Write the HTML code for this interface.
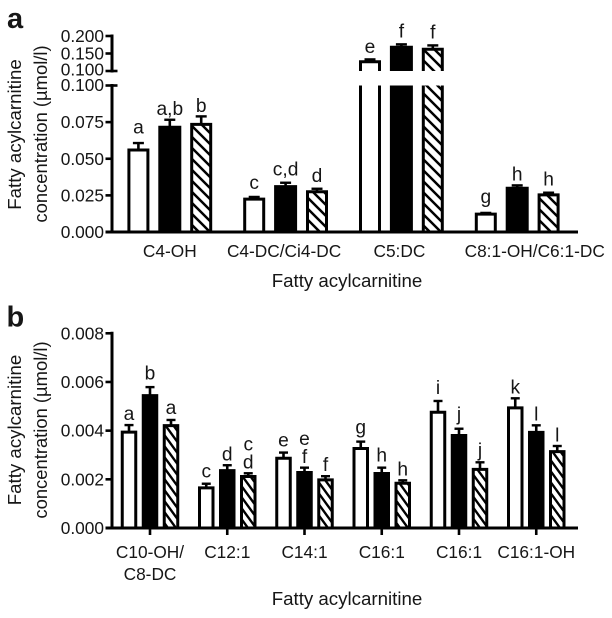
<!DOCTYPE html>
<html>
<head>
<meta charset="utf-8">
<style>
html,body{margin:0;padding:0;background:#fff;}
svg{display:block;}
text{font-family:"Liberation Sans",Arial,sans-serif;fill:#161616;}
</style>
</head>
<body>
<svg id="chart" xmlns="http://www.w3.org/2000/svg" width="612" height="618" viewBox="0 0 612 618">
<defs>
<pattern id="hatchA" patternUnits="userSpaceOnUse" width="11" height="11"><path d="M-2,-2L13,13M-2,9L2,13M9,-2L13,2" stroke="#000" stroke-width="2.5" fill="none"/></pattern>
<pattern id="hatchB" patternUnits="userSpaceOnUse" width="8" height="11"><path d="M-2,-2.75L10,13.75M-2,8.25L2,13.75M6,-2.75L10,2.75" stroke="#000" stroke-width="2.4" fill="none"/></pattern>
<filter id="soft" x="0" y="0" width="100%" height="100%"><feGaussianBlur stdDeviation="0.35"/></filter>
</defs>
<g id="root" filter="url(#soft)"></g>
</svg>
<script>
// Panel a data
const categoriesA = ["C4-OH","C4-DC/Ci4-DC","C5:DC","C8:1-OH/C6:1-DC"];
const whiteA = [0.057,0.0235,0.1306,0.0132];
const blackA = [0.0725,0.032,0.172,0.0309];
const hatchA = [0.0745,0.0285,0.1666,0.0264];
const whiteErrA = [0.0614,0.0246,0.136,0.0137];
const blackErrA = [0.0773,0.0343,0.179,0.0325];
const hatchErrA = [0.0796,0.0302,0.176,0.0275];
const whiteLetterA = ["a","c","e","g"];
const blackLetterA = ["a,b","c,d","f","h"];
const hatchLetterA = ["b","d","f","h"];
const lowerTicksA = ["0.000","0.025","0.050","0.075","0.100"];
const upperTicksA = ["0.100","0.150","0.200"];

// Panel b data
const categoriesB = [["C10-OH/","C8-DC"],["C12:1"],["C14:1"],["C16:1"],["C16:1"],["C16:1-OH"]];
const whiteB = [0.0040,0.00171,0.00293,0.00333,0.00482,0.0050];
const blackB = [0.0055,0.00242,0.00234,0.0023,0.00386,0.00399];
const hatchB = [0.00427,0.00218,0.00204,0.0019,0.00247,0.0032];
const whiteErrB = [0.00427,0.00186,0.00314,0.00359,0.00526,0.00537];
const blackErrB = [0.00583,0.00262,0.00252,0.00252,0.00412,0.00426];
const hatchErrB = [0.00448,0.00229,0.00217,0.0020,0.00274,0.00341];
const whiteLetterB = ["a","c","e","g","i","k"];
const blackLetterB = ["b","d","e f","h","j","l"];
const hatchLetterB = ["a","c d","f","h","j","l"];
const ticksB = ["0.000","0.002","0.004","0.006","0.008"];

// Layout only: clearance between each error cap and its letter
const letterLift = {
  aWhite:[8.5,7,5.5,9], aBlack:[3.7,6.5,6,4], aHatch:[3.6,6,6,6],
  bWhite:[4,5,5,7,6,4], bBlack:[6.7,3.6,3.7,5,7,4], bHatch:[5,4,4,4,4.6,3.5]
};

const root = document.getElementById('root');
const NS = 'http://www.w3.org/2000/svg';
function mk(tag, attrs, parent){
  const el = document.createElementNS(NS, tag);
  for (const k in attrs) el.setAttribute(k, attrs[k]);
  (parent || root).appendChild(el);
  return el;
}
function label(str, x, y, size, anchor, rot, nameStr){
  const attrs = {x:x, y:y, 'font-size':size, 'text-anchor':anchor || 'middle'};
  if (rot) attrs.transform = 'rotate(-90 ' + x + ' ' + y + ')';
  const t = mk('text', attrs);
  t.textContent = str;
  
  
  return t;
}
function line(x1, y1, x2, y2, w, nameStr){
  const l = mk('line', {x1:x1, y1:y1, x2:x2, y2:y2, stroke:'#000', 'stroke-width':w});
  
  
  return l;
}

// Axis functions
const BASE_A = 232, TOP_LOW_A = 85.5, BOT_UP_A = 71, TOP_UP_A = 36;
function yA(v){
  if (v <= 0.1) return BASE_A - (v / 0.1) * (BASE_A - TOP_LOW_A);
  return BOT_UP_A - ((v - 0.1) / 0.1) * (BOT_UP_A - TOP_UP_A);
}
const BASE_B = 528, TOP_B = 333.3;
function yB(v){ return BASE_B - (v / 0.008) * (BASE_B - TOP_B); }
function xA(i){ return 169.8 + i * 115.8; }
function xB(i){ return 150 + i * 77.25; }

function drawBar(cx, w, v, err, kind, panel, nameStr, capW, letter, lift){
  const sw = 3;
  const x0 = cx - w / 2 + sw / 2, x1 = cx + w / 2 - sw / 2;
  const y = panel === 'a' ? yA : yB;
  const base = panel === 'a' ? BASE_A : BASE_B;
  const top = y(v) + sw / 2;
  const g = mk('g', {});
  
  
  const fill = kind === 'black' ? '#000' : kind === 'hatch' ? 'url(#hatch' + panel.toUpperCase() + ')' : '#fff';
  const yErr = y(err) + 1;
  mk('line', {x1:cx, y1:yErr, x2:cx, y2:top, stroke:'#000', 'stroke-width':2.6}, g);
  mk('line', {x1:cx - capW / 2, y1:yErr, x2:cx + capW / 2, y2:yErr, stroke:'#000', 'stroke-width':2.4}, g);
  const seg = (yT, yB2, closedTop) => {
    mk('rect', {x:x0, y:yT, width:x1 - x0, height:yB2 - yT, fill:fill, stroke:'none'}, g);
    const d = closedTop
      ? 'M' + x0 + ',' + yB2 + 'L' + x0 + ',' + yT + 'L' + x1 + ',' + yT + 'L' + x1 + ',' + yB2
      : 'M' + x0 + ',' + yB2 + 'L' + x0 + ',' + yT + 'M' + x1 + ',' + yT + 'L' + x1 + ',' + yB2;
    mk('path', {d:d, fill:'none', stroke:'#000', 'stroke-width':sw}, g);
  };
  if (panel === 'a' && v > 0.1) {
    seg(TOP_LOW_A, base, false);
    seg(top, BOT_UP_A, true);
  } else {
    seg(top, base, true);
  }
  const parts = letter.split(' ');
  let by = y(err) - lift;
  for (let k = parts.length - 1; k >= 0; k--) {
    label(parts[k], cx, by, 19.2, 'middle', false, nameStr + '-significance-letter');
    by -= 18;
  }
}

// Panel a
label('a', 7, 28, 29, 'start', false, 'panel-a-label').setAttribute('font-weight', 'bold');
label('Fatty acylcarnitine', 21, 134.5, 18.7, 'middle', true, 'panel-a-y-axis-title-line-1');
label('concentration (\u00b5mol/l)', 47, 134, 18.4, 'middle', true, 'panel-a-y-axis-title-line-2');
categoriesA.forEach(function(c, i){
  const cx = xA(i);
  drawBar(cx - 31.4, 22, whiteA[i], whiteErrA[i], 'white', 'a', 'panel-a-bar-white-' + i, 11, whiteLetterA[i], letterLift.aWhite[i]);
  drawBar(cx, 23, blackA[i], blackErrA[i], 'black', 'a', 'panel-a-bar-black-' + i, 11, blackLetterA[i], letterLift.aBlack[i]);
  drawBar(cx + 31.4, 22, hatchA[i], hatchErrA[i], 'hatch', 'a', 'panel-a-bar-hatched-' + i, 11, hatchLetterA[i], letterLift.aHatch[i]);
});
const labelNudgeA = [0, -1.5, -2, 17.5];
categoriesA.forEach(function(c, i){
  label(c, xA(i) + labelNudgeA[i], 257, 17.3, 'middle', false, 'panel-a-x-tick-label');
});
line(112, TOP_LOW_A - 1.5, 112, BASE_A + 1.5, 3, 'panel-a-y-axis-lower');
line(112, TOP_UP_A - 1.5, 112, BOT_UP_A + 1.5, 3, 'panel-a-y-axis-upper');
line(105.5, BASE_A, 578, BASE_A, 3, 'panel-a-x-axis');
lowerTicksA.forEach(function(t){
  const v = parseFloat(t), py = yA(v);
  line(105.5, py, v === 0.1 ? 117.5 : 112, py, 2.6, 'panel-a-y-tick');
  label(t, 104, py + (v === 0.1 ? 5.5 : 6), 17.3, 'end', false, 'panel-a-y-tick-label');
});
upperTicksA.forEach(function(t){
  const v = parseFloat(t), py = v === 0.1 ? BOT_UP_A : yA(v);
  line(105.5, py, v === 0.1 ? 117.5 : 112, py, 2.6, 'panel-a-y-tick-upper');
  label(t, 104, py + (v === 0.1 ? 4.5 : 6), 17.3, 'end', false, 'panel-a-y-tick-label-upper');
});
label('Fatty acylcarnitine', 347, 287, 18.7, 'middle', false, 'panel-a-x-axis-title');

// Panel b
label('b', 6.5, 326.5, 29, 'start', false, 'panel-b-label').setAttribute('font-weight', 'bold');
label('Fatty acylcarnitine', 21, 430, 18.7, 'middle', true, 'panel-b-y-axis-title-line-1');
label('concentration (\u00b5mol/l)', 47, 430, 18.4, 'middle', true, 'panel-b-y-axis-title-line-2');
categoriesB.forEach(function(c, i){
  const cx = xB(i);
  drawBar(cx - 21, 16.5, whiteB[i], whiteErrB[i], 'white', 'b', 'panel-b-bar-white-' + i, 9, whiteLetterB[i], letterLift.bWhite[i]);
  drawBar(cx, 16.5, blackB[i], blackErrB[i], 'black', 'b', 'panel-b-bar-black-' + i, 9, blackLetterB[i], letterLift.bBlack[i]);
  drawBar(cx + 21, 16.5, hatchB[i], hatchErrB[i], 'hatch', 'b', 'panel-b-bar-hatched-' + i, 9, hatchLetterB[i], letterLift.bHatch[i]);
  line(cx, BASE_B, cx, BASE_B + 7, 2.6, 'panel-b-x-tick');
  c.forEach(function(s, k){
    label(s, cx, 558 + k * 22, 17.3, 'middle', false, 'panel-b-x-tick-label');
  });
});
line(112, TOP_B - 1.5, 112, BASE_B + 1.5, 3, 'panel-b-y-axis');
line(105.5, BASE_B, 578, BASE_B, 3, 'panel-b-x-axis');
ticksB.forEach(function(t){
  const v = parseFloat(t), py = yB(v);
  line(105.5, py, 112, py, 2.6, 'panel-b-y-tick');
  label(t, 104, py + 6, 17.3, 'end', false, 'panel-b-y-tick-label');
});
label('Fatty acylcarnitine', 347, 605, 18.7, 'middle', false, 'panel-b-x-axis-title');
</script>
</body>
</html>
